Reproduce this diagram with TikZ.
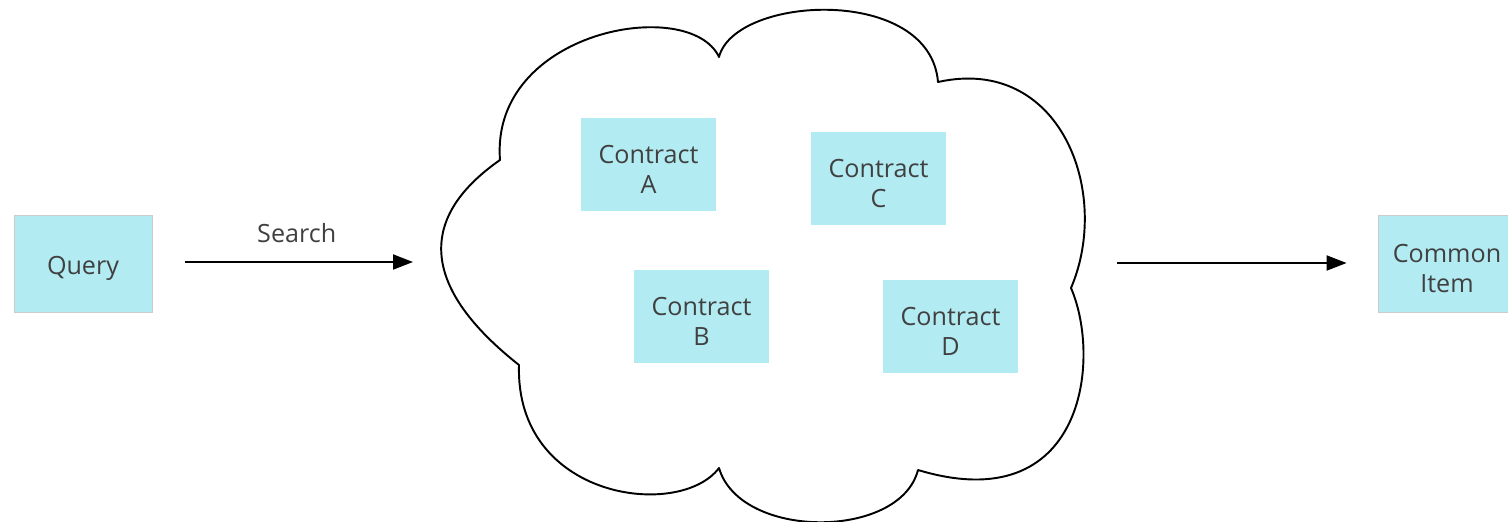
\documentclass[tikz,border=0pt]{standalone}
\usepackage{fontspec}
\setmainfont{Open Sans}
\usepackage{tikz}
\usetikzlibrary{arrows.meta}
\definecolor{boxcyan}{HTML}{B2EBF2}
\definecolor{textgray}{HTML}{404040}
\newcommand{\topstrut}{\rule{0pt}{16pt}}

\begin{document}
\begin{tikzpicture}[x=0.02cm,y=-0.02cm,
		box node/.style={rectangle,fill=boxcyan,text=textgray,align=center,
			font=\fontsize{14.3}{17}\selectfont,
			minimum width=2.7cm,minimum height=1.86cm,inner sep=0pt},
		end node/.style={box node,draw=black!20,line width=0.5pt,
			minimum width=2.76cm,minimum height=1.94cm},
		flow/.style={-{Triangle[length=0.4cm,width=0.3cm]},line width=1.1pt}]
	\useasboundingbox (0,0) rectangle (1508,521);
	
	\node[end node] (query) at (83,263.5) {\topstrut Query};
	\node[end node] (item) at (1447,263.5) {\topstrut Common\\Item};
	
	% the cloud
	\draw[line width=1.1pt,line join=round]
		(500,160) .. controls (490,30) and (690,-5) .. (719,57)
		.. controls (735,-5) and (930,-15) .. (938,82)
		.. controls (1060,55) and (1112,192) .. (1071,288)
		.. controls (1102,360) and (1084,520) .. (918,470)
		.. controls (900,540) and (740,540) .. (719,468)
		.. controls (680,520) and (515,500) .. (519,365)
		.. controls (424,290) and (414,220) .. cycle;
	\coordinate (cloudW) at (441,262);
	\coordinate (cloudE) at (1090,263);
	
	\node[box node] (ctrA) at (648.5,164.5) {\topstrut Contract\\A};
	\node[box node] (ctrC) at (878.5,178.5) {\topstrut Contract\\C};
	\node[box node] (ctrB) at (701.5,316.5) {\topstrut Contract\\B};
	\node[box node] (ctrD) at (950.5,326.5) {\topstrut Contract\\D};
	
	\draw[flow,shorten <=0.66cm,shorten >=0.56cm] (query.east |- cloudW) -- node[above=0.24cm,text=textgray,font=\fontsize{14.3}{17}\selectfont] {Search} (cloudW);
	\draw[flow,shorten <=0.54cm,shorten >=0.62cm] (cloudE) -- (item.west |- cloudE);
\end{tikzpicture}
\end{document}
